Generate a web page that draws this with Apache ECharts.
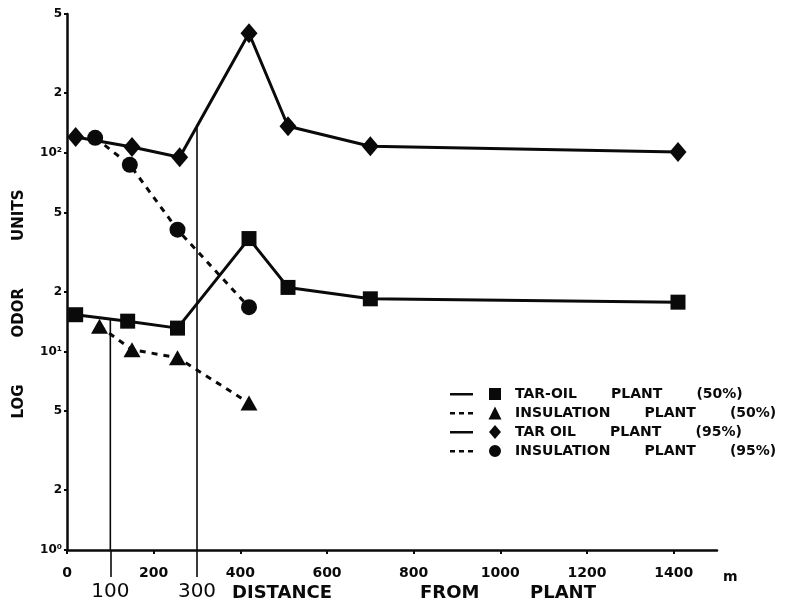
<!DOCTYPE html>
<html><head><meta charset="utf-8">
<script src="https://cdn.jsdelivr.net/npm/echarts@6/dist/echarts.min.js"></script>
<style>html,body{margin:0;background:#fff}#chart{width:791px;height:605px}</style>
</head><body><div id="chart"></div>
<script>
// Odour level versus distance from plant (m), in odour units (log scale)
const tarOil50X = [20, 140, 255, 420, 510, 700, 1410];
const tarOil50Y = [15.3, 14.2, 13.1, 37, 21, 18.4, 17.7];
const insul50X = [75, 150, 255, 420];
const insul50Y = [13.4, 10.2, 9.3, 5.5];
const tarOil95X = [20, 150, 260, 420, 510, 700, 1410];
const tarOil95Y = [120, 107, 95, 400, 136, 108, 101];
const insul95X = [65, 145, 255, 420];
const insul95Y = [119, 87, 41, 16.7];

const seriesNames = ['TAR-OIL       PLANT       (50%)', 'INSULATION       PLANT       (50%)', 'TAR OIL       PLANT       (95%)', 'INSULATION       PLANT       (95%)'];
const xTicks = [0, 200, 400, 600, 800, 1000, 1200, 1400];
const yTicks = [1, 2, 5, 10, 20, 50, 100, 200, 500];
const yTickLabels = ['10⁰', '2', '5', '10¹', '2', '5', '10²', '2', '5'];
// reference distances marked with drop lines, and the curve height they reach
const markX = [100, 300];
const markTop = [14.5, 136];

const FONT = 'DejaVu Sans';
const INK = '#0a0a0a';

function pairs(xs, ys) { return xs.map((x, i) => [x, ys[i]]); }

// legend keys: line sample followed by the marker
const iconSolid = 'M0,6 L23,6 L23,8.6 L0,8.6 Z ';
const iconDash = 'M0,6 L5,6 L5,8.6 L0,8.6 Z M9,6 L14,6 L14,8.6 L9,8.6 Z M18,6 L23,6 L23,8.6 L18,8.6 Z ';
const frame = 'M0,0 L0.01,0 L0.01,0.01 Z M52,14 L51.99,14 L51.99,13.99 Z ';
const legendIcons = [
  'path://' + frame + iconSolid + 'M39,1 L51,1 L51,13 L39,13 Z',
  'path://' + frame + iconDash + 'M45,0.5 L51.5,13.5 L38.5,13.5 Z',
  'path://' + frame + iconSolid + 'M45,0 L51,7 L45,14 L39,7 Z',
  'path://' + frame + iconDash + 'M45,1 A6,6 0 1,1 44.99,1 Z'
];

const markers = [
  { symbol: 'rect', size: 15 },
  { symbol: 'triangle', size: [17, 15] },
  { symbol: 'diamond', size: [17, 20] },
  { symbol: 'circle', size: 16 }
];
const dashed = [false, true, false, true];
const dataSets = [pairs(tarOil50X, tarOil50Y), pairs(insul50X, insul50Y), pairs(tarOil95X, tarOil95Y), pairs(insul95X, insul95Y)];

const series = dataSets.map((d, i) => ({
  name: seriesNames[i],
  type: 'line',
  data: d,
  symbol: markers[i].symbol,
  symbolSize: markers[i].size,
  itemStyle: { color: INK },
  lineStyle: { color: INK, width: 3, type: dashed[i] ? [6, 6] : 'solid' },
  z: 3,
  silent: true,
  animation: false
}));

markX.forEach((x, i) => {
  series.push({
    name: 'drop' + i,
    type: 'line',
    data: [[x, 1], [x, markTop[i]]],
    symbol: 'none',
    lineStyle: { color: INK, width: 1.6 },
    z: 2,
    silent: true,
    animation: false
  });
});

const titleWord = { fontFamily: FONT, fontSize: 18, fontWeight: 'bold', color: INK, align: 'left' };

const chart = echarts.init(document.getElementById('chart'));
chart.setOption({
  backgroundColor: '#fff',
  animation: false,
  grid: { left: 67, right: 74, top: 14, bottom: 55, containLabel: false, outerBoundsMode: 'none' },
  legend: {
    orient: 'vertical',
    left: 445,
    top: 382,
    itemWidth: 52,
    itemHeight: 14,
    itemGap: 5,
    selectedMode: false,
    data: seriesNames.map((n, i) => ({ name: n, icon: legendIcons[i] })),
    textStyle: { fontFamily: FONT, fontSize: 14, fontWeight: 'bold', color: INK, padding: [0, 0, 0, 8] }
  },
  xAxis: [{
    type: 'value',
    min: 0,
    max: 1500,
    name: 'm',
    nameLocation: 'end',
    nameGap: 6,
    nameMoveOverlap: false,
    nameTextStyle: { fontFamily: FONT, fontSize: 14, fontWeight: 'bold', color: INK, verticalAlign: 'top', padding: [20, 0, 0, 0] },
    axisLine: { lineStyle: { color: INK, width: 2.5 } },
    axisTick: { show: true, length: 4, lineStyle: { color: INK, width: 2 }, customValues: xTicks },
    axisLabel: { customValues: xTicks, margin: 16, fontFamily: FONT, fontSize: 14, fontWeight: 'bold', color: INK, formatter: v => String(v) },
    splitLine: { show: false }
  }, {
    type: 'value',
    min: 0,
    max: 1500,
    position: 'bottom',
    name: '{a|DISTANCE}{b|FROM}{c|PLANT}',
    nameLocation: 'middle',
    nameGap: 34,
    nameMoveOverlap: false,
    nameTextStyle: {
      fontFamily: FONT, fontSize: 18, fontWeight: 'bold', color: INK, padding: [0, 0, 0, 48],
      rich: {
        a: Object.assign({ width: 188 }, titleWord),
        b: Object.assign({ width: 110 }, titleWord),
        c: Object.assign({ width: 70 }, titleWord)
      }
    },
    axisLine: { show: false },
    axisTick: { show: true, inside: false, length: 27, lineStyle: { color: INK, width: 1.6 }, customValues: markX },
    axisLabel: { customValues: markX, margin: 32, fontFamily: FONT, fontSize: 20, color: INK, formatter: v => String(v) },
    splitLine: { show: false }
  }],
  yAxis: {
    type: 'log',
    logBase: 10,
    min: 1,
    max: 500,
    name: 'LOG         ODOR         UNITS',
    nameLocation: 'middle',
    nameGap: 40,
    nameMoveOverlap: false,
    nameTextStyle: { fontFamily: FONT, fontSize: 15, fontWeight: 'bold', color: INK, padding: [0, 44, 0, 0] },
    axisLine: { show: true, lineStyle: { color: INK, width: 2.5 } },
    axisTick: { show: true, length: 3, lineStyle: { color: INK, width: 2 }, customValues: yTicks },
    axisLabel: {
      customValues: yTicks, margin: 5, fontFamily: FONT, fontSize: 12, fontWeight: 'bold', color: INK,
      formatter: v => { const k = yTicks.findIndex(t => Math.abs(t - v) / t < 1e-6); return k >= 0 ? yTickLabels[k] : ''; }
    },
    splitLine: { show: false },
    minorTick: { show: false }
  },
  series: series
});
</script>
</body></html>
